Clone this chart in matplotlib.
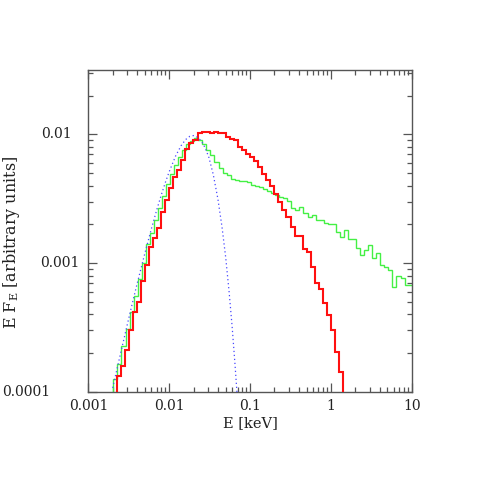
import numpy as np
import matplotlib
matplotlib.use('Agg')
import matplotlib.pyplot as plt
import matplotlib.transforms as mtransforms
from matplotlib.ticker import FixedLocator, FixedFormatter, NullFormatter, LogLocator

# ---------------- data ----------------
# histogram binning (log10 keV of first bin edge, bin width in dex)
red_log_e0 = -2.65
green_log_e0 = -2.69
bin_dex = 0.05

red_values = [
    1.33e-4, 1.57e-4, 2.12e-4, 3.0e-4, 4.2e-4, 5.0e-4, 7.2e-4, 9.6e-4,
    1.34e-3, 1.56e-3, 1.87e-3, 2.49e-3, 3.1e-3, 3.86e-3, 4.7e-3, 5.3e-3,
    6.3e-3, 7.7e-3, 8.5e-3, 9.0e-3, 1.02e-2, 1.04e-2, 1.04e-2, 1.02e-2,
    1.04e-2, 1.03e-2, 1.03e-2, 9.5e-3, 9.25e-3, 9.0e-3, 8.0e-3, 7.5e-3,
    7.1e-3, 6.7e-3, 6.2e-3, 5.6e-3, 4.96e-3, 4.4e-3, 3.95e-3, 3.43e-3,
    2.99e-3, 2.57e-3, 2.26e-3, 1.89e-3, 1.62e-3, 1.62e-3, 1.28e-3, 1.22e-3,
    9.3e-4, 6.97e-4, 6.25e-4, 4.92e-4, 3.95e-4, 3.03e-4, 2.02e-4, 1.42e-4,
]

green_values = [
    1.25e-4, 1.65e-4, 2.25e-4, 3.05e-4, 4.2e-4, 5.5e-4, 7.5e-4, 1.0e-3,
    1.4e-3, 1.7e-3, 2.15e-3, 2.7e-3, 3.3e-3, 4.1e-3, 4.9e-3, 5.8e-3,
    6.7e-3, 7.6e-3, 8.4e-3, 8.9e-3, 9.3e-3, 9.0e-3, 8.4e-3, 7.6e-3,
    6.9e-3, 6.1e-3, 5.5e-3, 5.0e-3, 4.8e-3, 4.5e-3, 4.4e-3, 4.35e-3,
    4.33e-3, 4.25e-3, 4.07e-3, 4.0e-3, 3.92e-3, 3.79e-3, 3.65e-3, 3.49e-3,
    3.37e-3, 3.27e-3, 3.19e-3, 3.03e-3, 2.66e-3, 2.58e-3, 2.73e-3, 2.45e-3,
    2.26e-3, 2.35e-3, 2.17e-3, 2.17e-3, 2.03e-3, 2.0e-3, 2.0e-3, 1.73e-3,
    1.6e-3, 1.8e-3, 1.53e-3, 1.53e-3, 1.32e-3, 1.15e-3, 1.26e-3, 1.38e-3,
    1.09e-3, 1.19e-3, 9.6e-4, 9.35e-4, 8.8e-4, 6.5e-4, 7.9e-4, 7.6e-4,
    6.75e-4, 6.75e-4,
]

blue_energy = [0.002, 0.0025, 0.003, 0.0035, 0.004, 0.005, 0.006, 0.007,
               0.008, 0.009, 0.010, 0.012, 0.014, 0.016, 0.018, 0.020,
               0.022, 0.025, 0.028, 0.031, 0.035, 0.040, 0.045, 0.050,
               0.055, 0.060, 0.065, 0.070]
blue_values = [1.07e-4, 1.97e-4, 3.23e-4, 4.86e-4, 6.85e-4, 1.19e-3, 1.83e-3,
               2.58e-3, 3.40e-3, 4.26e-3, 5.13e-3, 6.79e-3, 8.16e-3, 9.13e-3,
               9.67e-3, 9.79e-3, 9.55e-3, 8.9e-3, 7.8e-3, 6.6e-3, 4.9e-3,
               3.15e-3, 1.9e-3, 1.1e-3, 6.0e-4, 3.2e-4, 1.65e-4, 8.5e-5]

x_ticks = [0.001, 0.01, 0.1, 1, 10]
x_tick_labels = ['0.001', '0.01', '0.1', '1', '10']
y_ticks = [1e-4, 1e-3, 1e-2]
y_tick_labels = ['0.0001', '0.001', '0.01']

# ---------------- plot ----------------
plt.rcParams['font.family'] = ['DejaVu Serif']
plt.rcParams['mathtext.fontset'] = 'dejavuserif'

fig = plt.figure(figsize=(4.8, 4.8), dpi=100)
ax = fig.add_axes([0.184, 0.184, 0.674, 0.670])
ax.set_xscale('log')
ax.set_yscale('log')

red_edges = 10 ** (red_log_e0 + bin_dex * np.arange(len(red_values) + 1))
green_edges = 10 ** (green_log_e0 + bin_dex * np.arange(len(green_values) + 1))

ax.stairs(green_values, green_edges, baseline=1e-6, color='#44f044', lw=1.0, zorder=2)
ax.stairs(red_values, red_edges, baseline=1e-6, color='#ff1010', lw=1.5, zorder=3)
ax.plot(blue_energy, blue_values, color='#4848ff', lw=0.9, ls=(0, (1, 2.2)), zorder=4)

ax.set_xlim(1e-3, 10)
ax.set_ylim(1e-4, 10 ** -1.5)

ax.xaxis.set_major_locator(FixedLocator(x_ticks))
ax.xaxis.set_major_formatter(FixedFormatter(x_tick_labels))
ax.yaxis.set_major_locator(FixedLocator(y_ticks))
ax.yaxis.set_major_formatter(NullFormatter())
ax.xaxis.set_minor_locator(LogLocator(base=10, subs=np.arange(2, 10)))
ax.yaxis.set_minor_locator(LogLocator(base=10, subs=np.arange(2, 10)))
ax.xaxis.set_minor_formatter(NullFormatter())
ax.yaxis.set_minor_formatter(NullFormatter())

edge_col = '#555555'
for s in ax.spines.values():
    s.set_color(edge_col)
    s.set_linewidth(1.0)
ax.tick_params(which='both', direction='in', top=True, right=True,
               color=edge_col, width=0.9, labelsize=10, labelcolor='#222222')
ax.tick_params(which='major', length=6.5, pad=5)
ax.tick_params(which='minor', length=3.3)

# y tick labels placed as text (the reference staggers them horizontally)
ytrans = mtransforms.blended_transform_factory(ax.transAxes, ax.transData)
y_label_right = [-0.118, -0.026, -0.050]
for val, lab, xr in zip(y_ticks, y_tick_labels, y_label_right):
    ax.text(xr, val, lab, transform=ytrans, ha='right', va='center',
            fontsize=10, color='#222222')

ax.set_xlabel('E [keV]', fontsize=10.5, color='#222222')
ax.set_ylabel('E F$_\\mathrm{E}$ [arbitrary units]', fontsize=11.5, color='#222222')
ax.xaxis.set_label_coords(0.5, -0.075)
ax.yaxis.set_label_coords(-0.205, 0.465)

fig.savefig('out.png', dpi=100)
